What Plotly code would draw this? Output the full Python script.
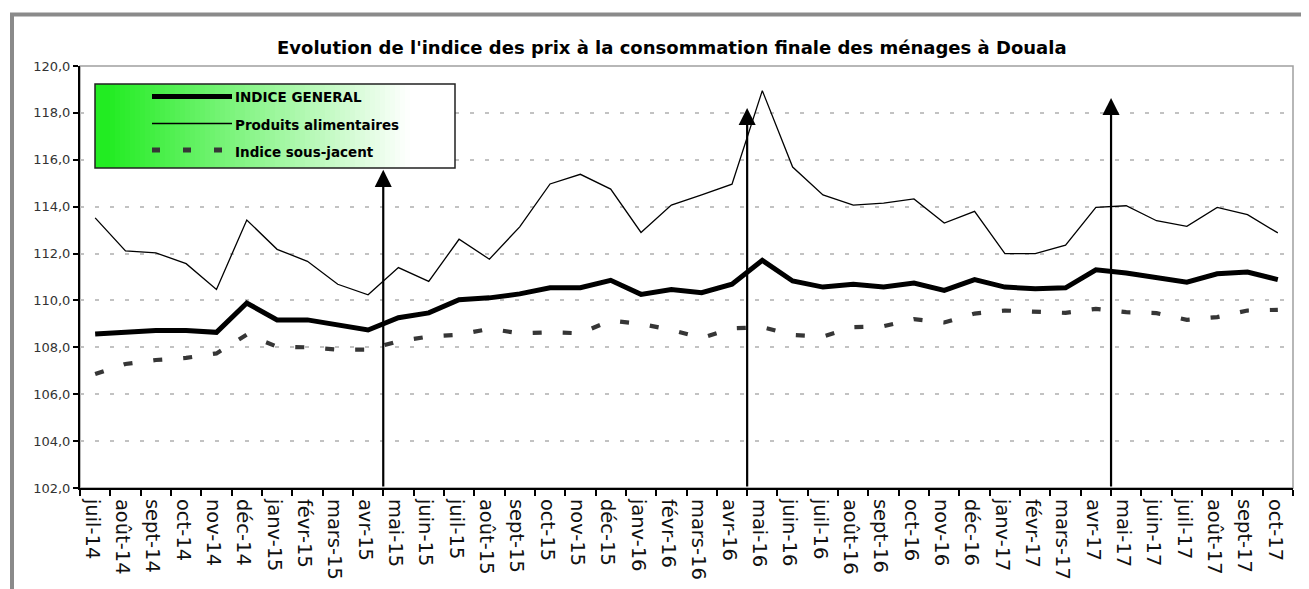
import plotly.graph_objects as go

# ---------------- data ----------------
months = ['juil-14', 'août-14', 'sept-14', 'oct-14', 'nov-14', 'déc-14',
          'janv-15', 'févr-15', 'mars-15', 'avr-15', 'mai-15', 'juin-15',
          'juil-15', 'août-15', 'sept-15', 'oct-15', 'nov-15', 'déc-15',
          'janv-16', 'févr-16', 'mars-16', 'avr-16', 'mai-16', 'juin-16',
          'juil-16', 'août-16', 'sept-16', 'oct-16', 'nov-16', 'déc-16',
          'janv-17', 'févr-17', 'mars-17', 'avr-17', 'mai-17', 'juin-17',
          'juil-17', 'août-17', 'sept-17', 'oct-17']

indice_general = [108.57, 108.64, 108.72, 108.72, 108.64, 109.89,
                  109.17, 109.17, 108.93, 108.74, 109.26, 109.47,
                  110.03, 110.11, 110.28, 110.54, 110.54, 110.86,
                  110.26, 110.47, 110.33, 110.69, 111.71, 110.83,
                  110.57, 110.69, 110.57, 110.74, 110.43, 110.89,
                  110.57, 110.50, 110.54, 111.31, 111.17, 111.00,
                  110.78, 111.14, 111.21, 110.89]

produits_alimentaires = [113.52, 112.11, 112.03, 111.57, 110.47, 113.43,
                         112.18, 111.67, 110.69, 110.24, 111.40, 110.81,
                         112.61, 111.76, 113.14, 114.97, 115.38, 114.75,
                         112.90, 114.07, 114.50, 114.96, 118.95, 115.69,
                         114.50, 114.07, 114.15, 114.33, 113.30, 113.80,
                         112.00, 112.00, 112.36, 113.97, 114.04, 113.40,
                         113.16, 113.97, 113.66, 112.88]

indice_sous_jacent = [106.86, 107.29, 107.46, 107.55, 107.74, 108.54,
                      108.03, 108.00, 107.90, 107.90, 108.26, 108.46,
                      108.54, 108.79, 108.60, 108.64, 108.60, 109.14,
                      109.00, 108.74, 108.40, 108.81, 108.86, 108.53,
                      108.46, 108.86, 108.90, 109.20, 109.06, 109.44,
                      109.57, 109.50, 109.47, 109.64, 109.50, 109.46,
                      109.17, 109.29, 109.57, 109.60]

# arrows drawn just after these months, up to these index levels
arrow_after = ['avr-15', 'avr-16', 'avr-17']
arrow_top = [115.57, 118.21, 118.64]

y_ticks = [102, 104, 106, 108, 110, 112, 114, 116, 118, 120]

title_text = "Evolution de l'indice des prix à la consommation finale des ménages à Douala"
legend_labels = ['INDICE GENERAL', 'Produits alimentaires', 'Indice sous-jacent']

# ---------------- layout geometry ----------------
# page has an 8px body margin: figure pixel = page pixel - OFF
OFF = 8
W, H = 1309 - OFF, 589 - OFF
L, R, T, B = 80 - OFF, 1293 - OFF, 66 - OFF, 488 - OFF
FONT = 'DejaVu Sans'


def px(X):
    """page x pixel -> paper x"""
    return (X - OFF - L) / (R - L)


def py(Y):
    """page y pixel -> paper y"""
    return (B - (Y - OFF)) / (B - T)


fig = go.Figure()

fig.add_trace(go.Scatter(x=months, y=indice_general, mode='lines',
                         name=legend_labels[0],
                         line=dict(color='black', width=5)))
fig.add_trace(go.Scatter(x=months, y=produits_alimentaires, mode='lines',
                         name=legend_labels[1],
                         line=dict(color='black', width=1.3)))
fig.add_trace(go.Scatter(x=months, y=indice_sous_jacent, mode='lines',
                         name=legend_labels[2],
                         line=dict(color='#363636', width=4.2, dash='9px,21px')))

shapes = []
# outer frame
shapes.append(dict(type='rect', xref='paper', yref='paper',
                   x0=px(12), x1=px(1330), y0=py(620), y1=py(14.5),
                   line=dict(color='#8a8a8a', width=4), layer='below'))
# plot area border (gray top/right)
shapes.append(dict(type='rect', xref='paper', yref='paper',
                   x0=0, x1=1, y0=0, y1=1,
                   line=dict(color='#a0a0a0', width=1.5), layer='below'))

# legend box with green-to-white gradient
LX0, LX1, LY0, LY1 = 95, 455, 84, 168
n_strips = 72
g0 = (34, 236, 34)
for k in range(n_strips):
    x0 = LX0 + (LX1 - LX0) * k / n_strips
    x1 = LX0 + (LX1 - LX0) * (k + 1) / n_strips + 0.6
    t = k / (n_strips - 1)
    t = max(0.0, min(1.0, (t - 0.03) / 0.85))
    c = tuple(int(round(g + (255 - g) * t)) for g in g0)
    shapes.append(dict(type='rect', xref='paper', yref='paper',
                       x0=px(x0), x1=px(min(x1, LX1)), y0=py(LY1), y1=py(LY0),
                       line=dict(width=0), fillcolor='rgb(%d,%d,%d)' % c,
                       layer='above'))
shapes.append(dict(type='rect', xref='paper', yref='paper',
                   x0=px(LX0), x1=px(LX1), y0=py(LY1), y1=py(LY0),
                   line=dict(color='#222222', width=1.5), layer='above'))
# legend samples
shapes.append(dict(type='line', xref='paper', yref='paper',
                   x0=px(152), x1=px(232), y0=py(96.5), y1=py(96.5),
                   line=dict(color='black', width=5), layer='above'))
shapes.append(dict(type='line', xref='paper', yref='paper',
                   x0=px(152), x1=px(232), y0=py(123.5), y1=py(123.5),
                   line=dict(color='black', width=1.5), layer='above'))
shapes.append(dict(type='line', xref='paper', yref='paper',
                   x0=px(152), x1=px(224), y0=py(150), y1=py(150),
                   line=dict(color='#363636', width=5, dash='8px,23px'),
                   layer='above'))

annotations = []
annotations.append(dict(xref='paper', yref='paper', x=px(672), y=py(47),
                        text='<b>' + title_text + '</b>', showarrow=False,
                        xanchor='center', yanchor='middle',
                        font=dict(family=FONT, size=18, color='black')))
for lab, Y in zip(legend_labels, [97, 125, 152]):
    annotations.append(dict(xref='paper', yref='paper', x=px(233), y=py(Y),
                            text='<b>' + lab + '</b>', showarrow=False,
                            xanchor='left', yanchor='middle',
                            font=dict(family=FONT, size=13.5, color='black')))
# arrows
for m, top in zip(arrow_after, arrow_top):
    xi = months.index(m) + 0.5
    annotations.append(dict(x=xi, y=top, ax=xi, ay=y_ticks[0],
                            xref='x', yref='y', axref='x', ayref='y',
                            text='', showarrow=True, arrowhead=2,
                            arrowwidth=2.2, arrowsize=1.55,
                            arrowcolor='black'))

fig.update_layout(
    width=W, height=H,
    autosize=False,
    margin=dict(l=L, r=W - R, t=T, b=H - B, pad=0),
    paper_bgcolor='white', plot_bgcolor='white',
    separators=',.',
    showlegend=False,
    shapes=shapes,
    annotations=annotations,
    xaxis=dict(type='category', range=[-0.5, len(months) - 0.5],
               tickson='boundaries', ticks='outside', ticklen=6,
               tickwidth=1.5, tickcolor='black',
               showline=True, linecolor='black', linewidth=2,
               showgrid=False, tickangle=90, ticklabelstandoff=5,
               ticklabelshift=-3,
               automargin=False,
               tickfont=dict(family=FONT, size=19.5, color='#111111')),
    yaxis=dict(range=[y_ticks[0], y_ticks[-1]], tickvals=y_ticks,
               tickformat='.1f', ticks='outside', ticklen=5,
               tickwidth=1.5, tickcolor='black',
               showline=True, linecolor='black', linewidth=2,
               showgrid=True, gridcolor='#c2c2c2', gridwidth=2,
               griddash='4px,11px', zeroline=False, automargin=False,
               tickfont=dict(family=FONT, size=13, color='#333333')),
)

fig.write_html('out.html')
